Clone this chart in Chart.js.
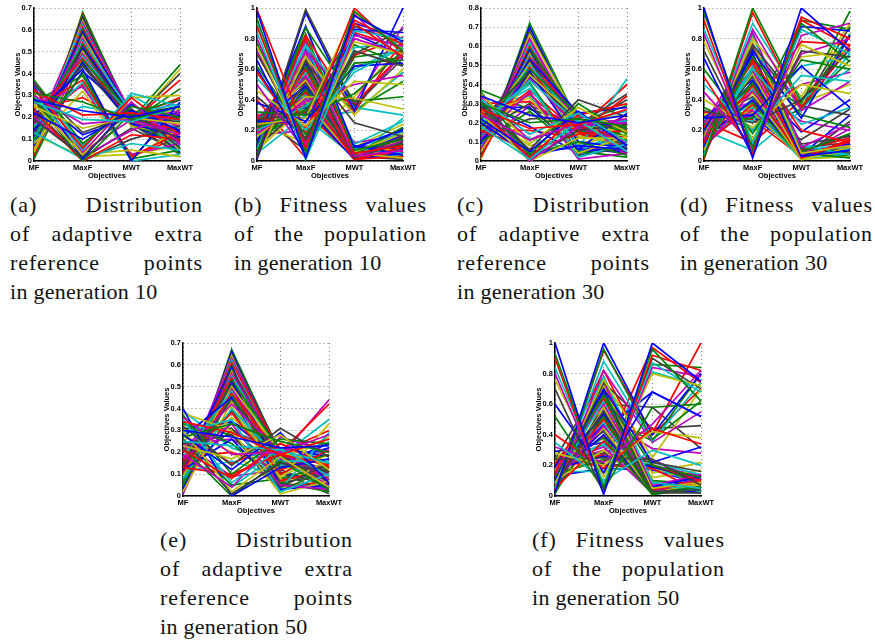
<!DOCTYPE html>
<html><head><meta charset="utf-8">
<script src="https://cdn.jsdelivr.net/npm/chart.js@4"></script>
<style>
html,body{margin:0;padding:0;background:#fff;width:875px;height:643px;overflow:hidden}
canvas{position:absolute}
.cap{position:absolute;width:193px;font:22px "Liberation Serif",serif;letter-spacing:.28px;color:#111}
.cap div{height:29px;line-height:29px;white-space:nowrap}
.cap .j{text-align:justify;text-align-last:justify;letter-spacing:.9px}
</style></head><body>
<script>
const objectives=['MF','MaxF','MWT','MaxWT'];
const matlabColors=['#0000ff','#007f00','#ff0000','#00bfbf','#bf00bf','#bfbf00','#404040'];
const panelA=[[.28,.23,.2,.25],[.31,.27,.19,.25],[.32,.21,.22,.19],[.27,.19,.18,.25],[.3,.17,.19,.12],[.25,.15,.2,.17],[.35,.13,.21,.1],[.22,.1,.23,.14],[.37,.08,.25,.2],[.33,.06,.29,.12],[.3,.05,.31,.25],[.36,.04,.27,.08],[.26,.03,.29,.3],[.19,.02,.24,.06],[.34,.01,.26,.13],[.29,0,.22,.28],[.23,0,.12,.1],[.13,.01,.08,.05],[.2,.02,.14,.22],[.31,.03,.05,.02],[.28,0,.1,.16],[.21,.42,0,.27],[.1,.4,.01,.05],[.24,.37,.02,.13],[.16,.36,0,.03],[.26,.34,.03,.08],[.08,.32,.01,.15],[.18,.44,.2,.2],[.14,.45,.17,.11],[.01,.46,.22,.03],[.2,.47,.18,.37],[.09,.48,.2,.07],[.17,.49,.19,.23],[.04,.5,.16,.12],[.12,.51,.2,.18],[.07,.52,.21,.04],[.15,.53,.18,.33],[.02,.54,.19,.09],[.1,.55,.22,.26],[.13,.56,.17,.14],[.05,.57,.2,.05],[.08,.58,.18,.4],[.11,.59,.21,.21],[.03,.6,.16,.1],[.06,.61,.2,.29],[.09,.62,.19,.06],[.04,.63,.22,.16],[.07,.64,.17,.42],[.02,.65,.2,.08],[.05,.655,.18,.12],[.03,.665,.21,.25],[.04,.67,.19,.14],[.06,.625,.18,.2],[.01,.595,.2,.11],[.08,.605,.19,.24],[.03,.575,.21,.19],[.05,.535,.17,.06],[.1,.5,.2,.13],[.24,.29,.17,.2],[.16,.25,.21,.15],[.12,.635,.18,.07],[.07,.615,.2,.17],[.02,.585,.17,.03],[.14,.565,.19,.22],[.06,.545,.22,.1],[.09,.525,.16,.16],[.15,.505,.2,.05],[.03,.485,.18,.28],[.11,.465,.19,.13],[.19,.435,.17,.09],[.05,.41,.21,.08],[.27,.39,.01,.24],[.17,.35,.02,.11],[.35,.07,.3,.18],[.28,.04,.19,.21],[.12,.02,.03,.07],[.24,.01,.15,.04],[.3,.12,.2,.15],[.01,.68,.19,.44]];
const panelB=[[.98,.02,.95,.78],[.93,.05,.98,.72],[.88,.08,.9,.68],[.84,.04,.85,.8],[.8,.1,.82,.75],[.75,.07,.78,.7],[.7,.14,.72,.62],[.66,.03,.86,.84],[.62,.17,.64,.66],[.58,.12,.92,.76],[.54,.2,.58,.74],[.5,.06,.8,.7],[.46,.23,.52,.5],[.42,.15,.7,.86],[.38,.26,.62,.64],[.32,.3,.44,.72],[.99,.18,1,.7],[.9,.01,.74,.78],[.72,.09,.96,.66],[.24,.28,.97,.73],[.27,.31,.88,.77],[.26,.25,.83,.69],[.22,.33,.76,.63],[.28,.22,.69,.81],[.2,.36,.6,.75],[.18,.39,.5,.56],[.16,.42,.41,.34],[.02,.99,.36,.67],[.01,.97,.33,1],[.05,.87,.39,.42],[.03,.82,.32,.79],[.08,.76,.35,.3],[.06,.72,.38,.88],[.02,.68,.3,.6],[.1,.65,.25,.16],[.12,.88,.09,.2],[.14,.83,.07,.14],[.18,.8,.05,.1],[.12,.75,.11,.26],[.2,.71,.03,.07],[.15,.69,.06,.18],[.22,.66,.02,.12],[.1,.64,.1,.04],[.25,.62,.04,.22],[.13,.6,.01,.09],[.17,.58,.08,.05],[.28,.55,.03,.13],[.21,.53,.05,.02],[.11,.51,.02,.16],[.24,.49,.1,.08],[.08,.47,.04,.11],[.19,.45,.01,.03],[.27,.43,.06,.19],[.15,.41,.03,.07],[.23,.39,.02,.1],[.09,.37,.07,.15],[.26,.35,.01,.05],[.14,.34,.05,.12],[.3,.32,.02,.06],[.2,.5,.02,.28],[.16,.56,.12,.17],[.12,.63,.09,.24],[.26,.67,.03,.01],[.22,.74,.08,.21],[.04,.59,.33,.52],[.06,.52,.37,.71],[.32,.28,.03,.04],[.1,.44,.05,.09],[.13,.57,.04,.13],[.18,.54,.07,.06],[.09,.48,.02,.1],[.16,.46,.06,.02],[.21,.43,.03,.15],[.11,.4,.08,.08],[.25,.38,.01,.11],[.07,.36,.05,.04],[.19,.61,.1,.03],[.23,.52,.04,.17],[.15,.49,.09,.07],[.29,.36,.02,.08],[.05,.3,.32,.58],[.17,.2,.35,.7],[.24,.12,.42,.76],[.3,.07,.62,.68],[.6,.1,.9,.8],[.77,.13,.68,.72],[.4,.02,.84,.74],[.12,.7,.06,.12],[.2,.78,.04,.05]];
const panelC=[[.34,.24,.2,.24],[.3,.2,.22,.18],[.27,.17,.19,.27],[.32,.14,.25,.1],[.24,.11,.2,.2],[.35,.09,.28,.15],[.29,.06,.32,.23],[.22,.05,.26,.08],[.31,.03,.3,.14],[.26,.02,.24,.3],[.18,.01,.21,.05],[.33,0,.18,.22],[.25,0,.12,.12],[.28,.01,.16,.19],[.2,.03,.08,.06],[.36,.04,.1,.03],[.16,.06,.14,.16],[.21,.4,.02,.09],[.12,.36,.01,.04],[.25,.33,.04,.13],[.15,.3,.03,.07],[.28,.28,.06,.25],[.1,.26,.05,.02],[.3,.31,.15,.34],[.19,.42,.2,.21],[.14,.43,.17,.1],[.05,.45,.22,.05],[.22,.46,.19,.35],[.09,.47,.1,.07],[.17,.48,.24,.17],[.02,.49,.15,.12],[.12,.5,.2,.26],[.06,.5,.22,.03],[.15,.51,.09,.14],[.03,.52,.18,.08],[.1,.53,.25,.28],[.13,.53,.16,.11],[.05,.54,.2,.06],[.08,.55,.07,.43],[.11,.55,.21,.19],[.03,.56,.13,.09],[.06,.57,.18,.32],[.09,.58,.06,.05],[.04,.59,.22,.15],[.07,.6,.17,.4],[.02,.62,.1,.07],[.05,.64,.18,.12],[.01,.66,.21,.24],[.04,.68,.19,.1],[.02,.7,.18,.2],[.01,.72,.2,.13],[.18,.35,.12,.16],[.23,.38,.08,.11],[.08,.29,.19,.18],[.27,.25,.14,.22],[.13,.22,.23,.04],[.31,.18,.04,.09],[.37,.27,.2,.29],[.16,.16,.12,.24],[.2,.12,.05,.17],[.11,.63,.18,.08],[.07,.61,.2,.15],[.03,.6,.16,.05],[.14,.58,.19,.21],[.08,.56,.14,.11],[.04,.54,.21,.19],[.16,.52,.17,.07],[.1,.5,.08,.04],[.19,.48,.2,.13],[.06,.46,.12,.16],[.13,.44,.21,.09],[.24,.41,.05,.06],[.17,.37,.15,.12],[.29,.34,.03,.1],[.34,.11,.23,.2],[.26,.08,.16,.13],[.21,.02,.2,.17],[.3,.05,.07,.04]];
const panelD=[[1,.02,1,.72],[.97,.08,.9,.65],[.92,.04,.94,.8],[.86,.12,.86,.7],[.83,.05,.82,.9],[.78,.14,.76,.62],[.72,.09,.72,.68],[.67,.03,.88,.85],[.6,.18,.66,.6],[.55,.06,.92,.75],[.5,.2,.56,.52],[.45,.1,.7,.8],[.4,.22,.5,.44],[.33,.25,.4,.73],[.28,.3,.62,.35],[.02,1,.38,.98],[.01,.97,.35,.74],[.04,.9,.4,.6],[.03,.86,.33,.52],[.07,.8,.42,.9],[.06,.76,.36,.3],[.09,.72,.28,.82],[.05,.68,.3,.22],[.12,.66,.2,.12],[.08,.6,.24,.35],[.14,.84,.09,.24],[.16,.78,.05,.1],[.1,.74,.11,.16],[.2,.7,.03,.07],[.13,.67,.06,.18],[.22,.64,.02,.13],[.1,.62,.1,.04],[.25,.59,.04,.21],[.15,.57,.01,.09],[.18,.55,.08,.05],[.28,.53,.03,.11],[.21,.51,.05,.02],[.12,.49,.02,.14],[.25,.47,.1,.08],[.08,.46,.04,.1],[.19,.44,.01,.03],[.26,.42,.06,.17],[.15,.4,.03,.07],[.22,.38,.02,.1],[.1,.37,.07,.15],[.27,.35,.01,.05],[.14,.33,.05,.12],[.3,.32,.02,.06],[.2,.31,.14,.34],[.16,.52,.19,.4],[.24,.28,.92,.86],[.18,.34,.78,.76],[.26,.26,.62,.68],[.22,.3,.5,.58],[.3,.36,.68,.72],[.12,.58,.02,.26],[.07,.7,.04,.3],[.17,.6,.35,.66],[.32,.27,.03,.09],[.04,.82,.06,.08],[.24,.75,.07,.15],[.15,.65,.05,.06],[.2,.61,.09,.12],[.11,.56,.03,.08],[.17,.5,.07,.03],[.23,.45,.02,.12],[.09,.41,.06,.06],[.26,.39,.04,.09],[.13,.36,.01,.13],[.18,.3,.08,.02],[.29,.29,.05,.1],[.35,.2,.34,.83],[.26,.12,.4,.76],[.2,.07,.33,.7],[.16,.46,.26,.2],[.11,.6,.38,.5],[.03,.73,.35,.88],[.23,.68,.04,.04]];
const panelE=[[.3,.27,.22,.23],[.27,.33,.25,.2],[.34,.29,.19,.26],[.25,.23,.21,.15],[.36,.19,.2,.28],[.23,.17,.28,.12],[.32,.14,.31,.18],[.28,.12,.29,.06],[.37,.1,.26,.24],[.21,.08,.24,.13],[.35,.06,.22,.09],[.19,.04,.27,.2],[.3,.02,.18,.04],[.26,.01,.15,.11],[.4,0,.13,.17],[.22,0,.16,.03],[.13,.1,.19,.14],[.29,.35,.02,.1],[.17,.33,.05,.03],[.38,.3,.01,.07],[.24,.28,.04,.15],[.12,.26,.03,.05],[.33,.24,.06,.02],[.16,.38,.1,.21],[.08,.4,.16,.16],[.2,.42,.2,.07],[.02,.43,.08,.33],[.14,.44,.18,.11],[.27,.45,.05,.04],[.05,.46,.13,.19],[.11,.47,.19,.08],[.18,.48,.03,.29],[.01,.49,.17,.05],[.09,.5,.2,.14],[.15,.51,.06,.1],[.03,.52,.15,.24],[.07,.53,.21,.02],[.13,.54,.07,.12],[.05,.55,.18,.35],[.1,.56,.2,.09],[.02,.57,.04,.17],[.08,.58,.19,.06],[.12,.59,.16,.22],[.04,.6,.02,.13],[.06,.61,.2,.42],[.01,.62,.14,.08],[.09,.63,.18,.44],[.03,.64,.09,.19],[.05,.65,.2,.11],[.02,.66,.17,.16],[.01,.67,.19,.07],[.18,.2,.12,.19],[.11,.16,.09,.25],[.24,.26,.14,.1],[.15,.36,.17,.27],[.31,.31,.11,.01],[.06,.34,.22,.18],[.26,.05,.08,.14],[.16,.09,.2,.3],[.39,.22,.15,.12],[.04,.63,.18,.12],[.07,.6,.04,.05],[.1,.575,.16,.13],[.06,.55,.1,.08],[.14,.53,.19,.16],[.17,.5,.05,.06],[.09,.47,.14,.21],[.21,.44,.17,.1],[.25,.41,.06,.15],[.16,.39,.12,.04],[.29,.34,.16,.19],[.33,.28,.08,.11],[.28,.15,.24,.14],[.35,.04,.2,.09],[.24,.09,.12,.22],[.31,.2,.04,.07],[.12,.3,.2,.24]];
const panelF=[[1,.01,1,.75],[.93,.05,.96,.62],[.9,.03,.92,.82],[.84,.08,.87,.68],[.8,.06,.84,.78],[.76,.12,.8,.72],[.7,.02,.9,.7],[.6,.15,.68,.52],[.52,.04,.58,.6],[.4,.18,.44,.34],[.35,.1,.3,.2],[.32,.22,.47,.82],[.28,.2,.42,.38],[.24,.25,.24,.07],[.02,1,.4,.8],[.01,.96,.37,.62],[.03,.95,.41,1],[.05,.88,.36,.74],[.04,.82,.35,.55],[.08,.76,.25,.7],[.06,.74,.44,.46],[.1,.7,.22,.32],[.12,.66,.2,.12],[.15,.82,.2,.1],[.09,.78,.09,.05],[.13,.75,.07,.14],[.16,.72,.05,.09],[.11,.7,.03,.04],[.19,.68,.06,.13],[.14,.66,.02,.06],[.21,.64,.04,.1],[.1,.62,.08,.03],[.18,.6,.03,.11],[.23,.58,.05,.07],[.07,.56,.02,.02],[.15,.54,.07,.12],[.2,.52,.01,.05],[.12,.5,.04,.09],[.22,.48,.03,.04],[.09,.46,.06,.13],[.17,.44,.02,.08],[.24,.42,.05,.06],[.13,.4,.03,.03],[.19,.38,.01,.1],[.05,.36,.04,.05],[.16,.34,.07,.07],[.21,.32,.02,.12],[.1,.3,.06,.02],[.25,.28,.22,.16],[.18,.26,.19,.11],[.14,.24,.2,.08],[.22,.2,.18,.03],[.16,.16,.22,.14],[.2,.3,.24,.09],[.15,.55,.12,.17],[.03,.6,.58,.31],[.12,.43,.68,.52],[.26,.22,.86,.84],[.2,.27,.97,.74],[.22,.34,.81,.72],[.08,.5,.31,.28],[.1,.58,.15,.22],[.24,.78,.04,.02],[.29,.35,.03,.06],[.06,.69,.1,.08],[.11,.73,.06,.07],[.17,.69,.04,.1],[.14,.63,.02,.05],[.2,.59,.07,.12],[.08,.53,.03,.03],[.12,.47,.05,.11],[.23,.43,.02,.06],[.16,.39,.09,.04],[.18,.33,.18,.09],[.21,.27,.2,.13],[.15,.23,.21,.06],[.24,.21,.19,.11],[.13,.18,.17,.08],[.02,.52,.36,.8],[.04,.46,.4,.7]];
const ticksFine=[0,.1,.2,.3,.4,.5,.6,.7];
const ticksC=[0,.1,.2,.3,.4,.5,.6,.7,.8];
const ticksUnit=[0,.2,.4,.6,.8,1];
const panels=[
 {rows:panelA,ticks:ticksFine,left:34,top:8},
 {rows:panelB,ticks:ticksUnit,left:257,top:8},
 {rows:panelC,ticks:ticksC,left:481,top:8},
 {rows:panelD,ticks:ticksUnit,left:704,top:8},
 {rows:panelE,ticks:ticksFine,left:183,top:343},
 {rows:panelF,ticks:ticksUnit,left:555,top:343}];
const captions=[
 {x:10,y:190,c:['(a) Distribution','of adaptive extra','reference points','in generation 10'],j:[1,1,1,0]},
 {x:234,y:190,c:['(b) Fitness values','of the population','in generation 10'],j:[1,1,0]},
 {x:457,y:190,c:['(c) Distribution','of adaptive extra','reference points','in generation 30'],j:[1,1,1,0]},
 {x:680,y:190,c:['(d) Fitness values','of the population','in generation 30'],j:[1,1,0]},
 {x:160,y:525,c:['(e) Distribution','of adaptive extra','reference points','in generation 50'],j:[1,1,1,0]},
 {x:532,y:525,c:['(f) Fitness values','of the population','in generation 50'],j:[1,1,0]}];
const W=215,H=185,PL=34,PT=8,PW=146,PH=153;
const axisFont={family:'"Liberation Sans",Arial,sans-serif',size:7.5,weight:'bold'};
panels.forEach(p=>{
 const cv=document.createElement('canvas');
 cv.width=W;cv.height=H;
 cv.style.cssText=`left:${p.left-PL}px;top:${p.top-PT}px;width:${W}px;height:${H}px`;
 document.body.appendChild(cv);
 new Chart(cv,{type:'line',
  data:{labels:objectives,datasets:p.rows.map((r,i)=>({data:r,borderColor:matlabColors[i%7],borderWidth:1.7,pointRadius:0,tension:0,fill:false}))},
  options:{responsive:false,animation:false,events:[],
   layout:{padding:{left:0,top:PT,right:W-PL-PW,bottom:0}},
   plugins:{legend:{display:false},tooltip:{enabled:false}},
   scales:{
    x:{type:'category',offset:false,afterFit:s=>{s.height=H-PT-PH},
     grid:{color:'#808080',drawTicks:false,lineWidth:1},border:{color:'#000',width:1.5,dash:[1,3]},
     ticks:{color:'#000',font:axisFont,autoSkip:false,maxRotation:0,padding:2},
     title:{display:true,text:'Objectives',color:'#000',font:axisFont,padding:{top:0,bottom:5}}},
    y:{min:p.ticks[0],max:p.ticks[p.ticks.length-1],afterFit:s=>{s.width=PL},
     afterBuildTicks:s=>{s.ticks=p.ticks.map(v=>({value:v}))},
     grid:{color:'#808080',drawTicks:false,lineWidth:1},border:{color:'#000',width:1.5,dash:[1,3]},
     ticks:{color:'#000',font:axisFont,padding:2,callback:v=>String(v)},
     title:{display:true,text:'Objectives Values',color:'#000',font:axisFont,padding:{top:13,bottom:0}}}
   }}});
});
captions.forEach(c=>{
 const d=document.createElement('div');d.className='cap';
 d.style.left=c.x+'px';d.style.top=c.y+'px';
 c.c.forEach((t,i)=>{const l=document.createElement('div');l.textContent=t;if(c.j[i])l.className='j';d.appendChild(l)});
 document.body.appendChild(d);
});
</script>
</body></html>
